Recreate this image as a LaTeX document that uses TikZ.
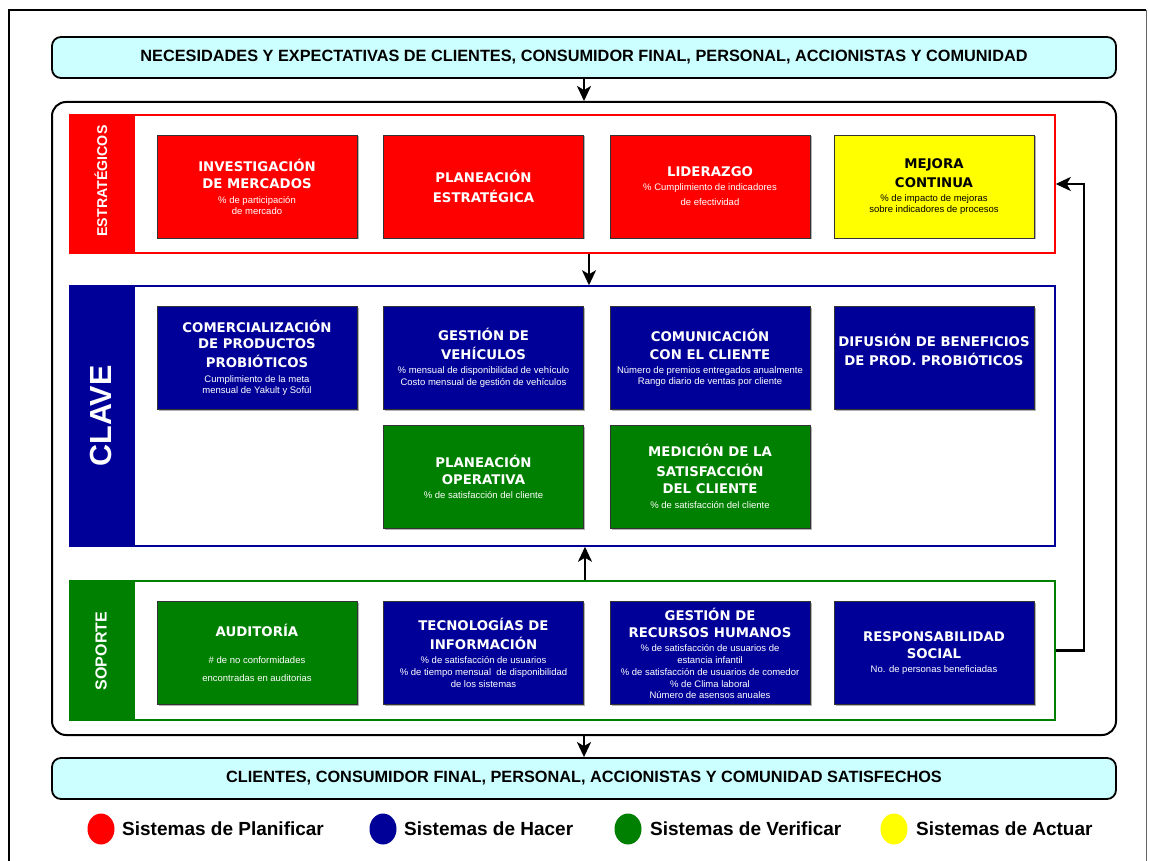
\documentclass[tikz,border=0pt]{standalone}
\usepackage{fontspec}
\setmainfont{Liberation Sans}
\newfontfamily\vfont{DejaVu Sans}
\usetikzlibrary{arrows.meta,shadows,shapes.geometric}
\definecolor{cRed}{HTML}{FF0000}
\definecolor{cBlue}{HTML}{000099}
\definecolor{cGreen}{HTML}{008000}
\definecolor{cYel}{HTML}{FFFF00}
\definecolor{cCyan}{HTML}{CCFFFF}
\newcommand\subt[1]{{\normalfont\fontsize{9.5}{10}\selectfont #1}}
\newcommand\pb[6]{%
  \node[pbox,fill=#4] (#1) at (#2,#3) {};
  \node[ptext,text=#5] (#1t) at (#1.center) {#6};
}
\begin{document}
\begin{tikzpicture}[x=1pt,y=-1pt,
  pbox/.style={draw=black!80, line width=0.8pt, minimum width=200pt, minimum height=103pt, inner sep=0pt,
    drop shadow={shadow xshift=1.5pt,shadow yshift=-1.5pt,fill=black!30,opacity=1}},
  ptext/.style={align=center, inner sep=0pt, font=\vfont\bfseries\fontsize{13.3}{11}\selectfont},
  band/.style={line width=1.5pt, minimum width=985pt, inner sep=0pt},
  strip/.style={minimum width=65pt, inner sep=0pt},
  striptext/.style={rotate=90, text=white, inner sep=0pt},
  hdr/.style={draw, line width=1.8pt, fill=cCyan, rounded corners=9pt, minimum width=1064pt, minimum height=41pt,
    font=\bfseries\fontsize{16.3}{18}\selectfont},
  arr/.style={line width=2.4pt, -{Stealth[length=15pt,width=14pt,inset=4pt]}},
  dot/.style={ellipse, minimum width=27pt, minimum height=31pt, inner sep=0pt},
  legtext/.style={anchor=west, inner sep=0pt, font=\bfseries\fontsize{19}{20}\selectfont}
]
\useasboundingbox (0,0) rectangle (1149,861);
\fill[white] (0,0) rectangle (1149,861);
% outer frame
\draw[line width=2pt] (9,862) -- (9,10) -- (1146,10);
\draw[line width=1pt, black!60] (1146,10) -- (1146,862);

% headers
\node[hdr] (need) at (584,57.5) {NECESIDADES Y EXPECTATIVAS DE CLIENTES, CONSUMIDOR FINAL, PERSONAL, ACCIONISTAS Y COMUNIDAD};
\node[hdr] (sat) at (584,778.5) {CLIENTES, CONSUMIDOR FINAL, PERSONAL, ACCIONISTAS Y COMUNIDAD SATISFECHOS};

% main container
\node[draw, line width=2pt, rounded corners=14pt, minimum width=1064pt, minimum height=633pt, inner sep=0pt] (main) at (584,418.5) {};

% bands
\node[band, draw=cRed, minimum height=138pt] (est) at (562.5,184) {};
\node[band, draw=cBlue, minimum height=260pt] (clave) at (562.5,416) {};
\node[band, draw=cGreen, minimum height=139pt] (sop) at (562.5,650.5) {};

\node[strip, fill=cRed, minimum height=138pt] (estL) at (102.5,184) {};
\node[strip, fill=cBlue, minimum height=260pt] (claveL) at (102.5,416) {};
\node[strip, fill=cGreen, minimum height=139pt] (sopL) at (102.5,650.5) {};
\node[striptext, font=\bfseries\fontsize{14.2}{16}\selectfont] (estLt) at (101,181) {ESTRATÉGICOS};
\node[striptext, font=\bfseries\fontsize{30.5}{32}\selectfont] (claveLt) at (101,416) {CLAVE};
\node[striptext, font=\bfseries\fontsize{16}{18}\selectfont] (sopLt) at (101,651) {SOPORTE};

% estrategicos
\pb{e1}{257}{186.5}{cRed}{white}{INVESTIGACIÓN\\[6pt]DE MERCADOS\\[4pt]\subt{\% de participación}\\\subt{de mercado}}
\pb{e2}{483.5}{186.5}{cRed}{white}{PLANEACIÓN\\[6pt]ESTRATÉGICA}
\pb{e3}{710}{186.5}{cRed}{white}{LIDERAZGO\\[3pt]\subt{\% Cumplimiento de indicadores}\\[4pt]\subt{de efectividad}}
\pb{e4}{934}{186.5}{cYel}{black}{MEJORA\\[6pt]CONTINUA\\[3pt]\subt{\% de impacto de mejoras}\\\subt{sobre indicadores de procesos}}

% clave
\pb{k1}{257}{358}{cBlue}{white}{COMERCIALIZACIÓN\\[5.5pt]DE PRODUCTOS\\[5.5pt]PROBIÓTICOS\\[4pt]\subt{Cumplimiento de la meta}\\\subt{mensual de Yakult y Sofúl}}
\pb{k2}{483.5}{358}{cBlue}{white}{GESTIÓN DE\\[6pt]VEHÍCULOS\\[3pt]\subt{\% mensual de disponibilidad de vehículo}\\[1pt]\subt{Costo mensual de gestión de vehículos}}
\pb{k3}{710}{358}{cBlue}{white}{COMUNICACIÓN\\[7pt]CON EL CLIENTE\\[3pt]\subt{Número de premios entregados anualmente}\\\subt{Rango diario de ventas por cliente}}
\node[pbox,fill=cBlue] (k4) at (934,358) {};
\node[ptext,text=white] (k4t) at (934,350) {DIFUSIÓN DE BENEFICIOS\\[6pt]DE PROD. PROBIÓTICOS};
\pb{k5}{483.5}{476.5}{cGreen}{white}{PLANEACIÓN\\[6pt]OPERATIVA\\[3pt]\subt{\% de satisfacción del cliente}}
\pb{k6}{710}{476.5}{cGreen}{white}{MEDICIÓN DE LA\\[6pt]SATISFACCIÓN\\[6pt]DEL CLIENTE\\[4pt]\subt{\% de satisfacción del cliente}}

% soporte
\pb{s1}{257}{653}{cGreen}{white}{AUDITORÍA\\[16pt]\subt{\# de no conformidades}\\[7pt]\subt{encontradas en auditorias}}
\pb{s2}{483.5}{653}{cBlue}{white}{TECNOLOGÍAS DE\\[6pt]INFORMACIÓN\\[3pt]\subt{\% de satisfacción de usuarios}\\[1pt]\subt{\% de tiempo mensual\ \ de disponibilidad}\\[1pt]\subt{de los sistemas}}
\pb{s3}{710}{653}{cBlue}{white}{GESTIÓN DE\\[6pt]RECURSOS HUMANOS\\[3pt]\subt{\% de satisfacción de usuarios de}\\[1pt]\subt{estancia infantil}\\[1pt]\subt{\% de satisfacción de usuarios de comedor}\\[1pt]\subt{\% de Clima laboral}\\[0pt]\subt{Número de asensos anuales}}
\pb{s4}{934}{653}{cBlue}{white}{RESPONSABILIDAD\\[6pt]SOCIAL\\[3pt]\subt{No. de personas beneficiadas}}

% connectors
\draw[arr] (need.south) -- (main.north);
\draw[arr] ([xshift=26.5pt]est.south) -- ([xshift=26.5pt]clave.north);
\draw[arr] ([xshift=22.5pt]sop.north) -- ([xshift=22.5pt]clave.south);
\draw[arr] (main.south) -- (sat.north);
\draw[arr] (sop.east) -- ++(28,0) |- (est.east);

% legend
\node[dot, fill=cRed] (lr) at (101,829) {};
\node[legtext] (lrt) at (122,829) {Sistemas de Planificar};
\node[dot, fill=cBlue] (lb) at (383,829) {};
\node[legtext] (lbt) at (404,829) {Sistemas de Hacer};
\node[dot, fill=cGreen] (lg) at (628,829) {};
\node[legtext] (lgt) at (650,829) {Sistemas de Verificar};
\node[dot, fill=cYel] (ly) at (894,829) {};
\node[legtext] (lyt) at (916,829) {Sistemas de Actuar};
\end{tikzpicture}
\end{document}
